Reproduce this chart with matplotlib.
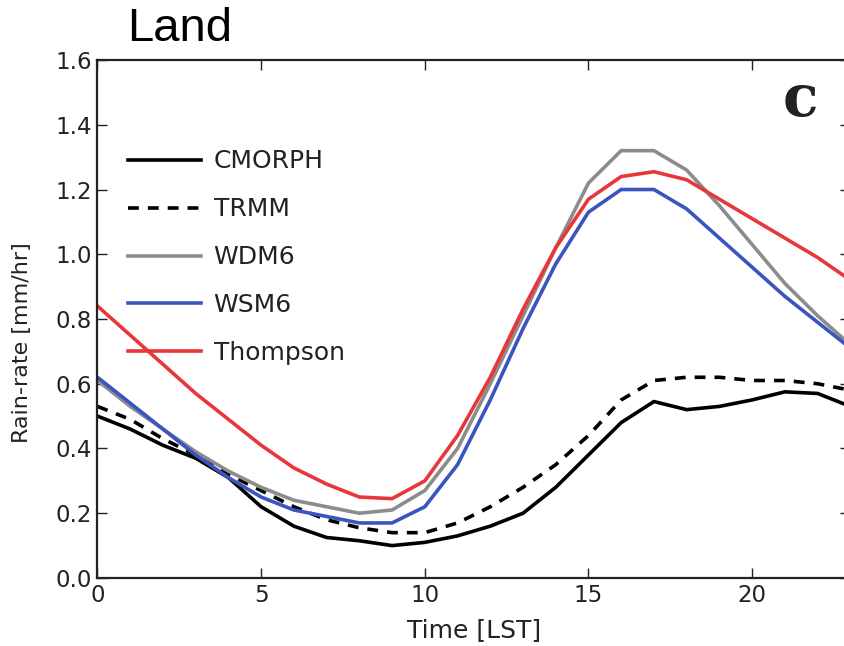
import matplotlib
matplotlib.use("Agg")
import matplotlib.pyplot as plt
import numpy as np

hours = list(range(24))
cmorph = [0.50, 0.46, 0.41, 0.37, 0.31, 0.22, 0.16, 0.125, 0.115, 0.10, 0.11, 0.13,
          0.16, 0.20, 0.28, 0.38, 0.48, 0.545, 0.52, 0.53, 0.55, 0.575, 0.57, 0.53]
trmm = [0.53, 0.49, 0.43, 0.38, 0.32, 0.27, 0.22, 0.18, 0.155, 0.14, 0.14, 0.17,
        0.22, 0.28, 0.35, 0.44, 0.55, 0.61, 0.62, 0.62, 0.61, 0.61, 0.60, 0.58]
wdm6 = [0.61, 0.53, 0.46, 0.39, 0.33, 0.28, 0.24, 0.22, 0.20, 0.21, 0.27, 0.40,
        0.60, 0.81, 1.02, 1.22, 1.32, 1.32, 1.26, 1.15, 1.03, 0.91, 0.81, 0.72]
wsm6 = [0.62, 0.54, 0.46, 0.38, 0.31, 0.25, 0.21, 0.19, 0.17, 0.17, 0.22, 0.35,
        0.55, 0.77, 0.97, 1.13, 1.20, 1.20, 1.14, 1.05, 0.96, 0.87, 0.79, 0.71]
thompson = [0.84, 0.75, 0.66, 0.57, 0.49, 0.41, 0.34, 0.29, 0.25, 0.245, 0.30, 0.44,
            0.62, 0.83, 1.02, 1.17, 1.24, 1.255, 1.23, 1.17, 1.11, 1.05, 0.99, 0.92]

W, H = 844, 646
fig = plt.figure(figsize=(W / 100, H / 100), dpi=100)
ax = fig.add_axes([0.1155, 0.1053, 0.892, 0.8018])

lw = 2.6
ax.plot(hours, cmorph, color="black", lw=lw, label="CMORPH")
ax.plot(hours, trmm, color="black", lw=lw, ls=(0, (3, 2.5)), label="TRMM")
ax.plot(hours, wdm6, color="#8c8c8c", lw=lw, label="WDM6")
ax.plot(hours, wsm6, color="#3a55c0", lw=lw, label="WSM6")
ax.plot(hours, thompson, color="#e8373a", lw=lw, label="Thompson")

ax.set_xlim(0, 23)
ax.set_ylim(0, 1.6)
ax.set_xticks([0, 5, 10, 15, 20])
ax.set_yticks(np.arange(0, 1.61, 0.2))
ax.yaxis.set_major_formatter(matplotlib.ticker.FormatStrFormatter("%.1f"))
ax.tick_params(direction="in", top=True, right=True, length=7, width=1,
               labelsize=16.5, pad=4, colors="#222222")
for s in ax.spines.values():
    s.set_linewidth(1.6)
    s.set_color("#222222")

ax.set_xlabel("Time [LST]", fontsize=18, color="#222222", labelpad=8)
ax.set_ylabel("Rain-rate [mm/hr]", fontsize=16, color="#222222")
ax.yaxis.set_label_coords(-0.087, 0.454)

leg = ax.legend(loc="upper left", bbox_to_anchor=(128 / W, 1 - 149.5 / H),
                bbox_transform=fig.transFigure, frameon=False, borderpad=0,
                borderaxespad=0, fontsize=18, handlelength=2.9,
                labelspacing=0.955, handletextpad=0.52)
for t in leg.get_texts():
    t.set_color("#222222")

ax.text(0.933, 0.923, "c", transform=ax.transAxes, fontsize=42, fontweight="bold",
        family="DejaVu Serif", ha="center", va="center", color="#222222")

fig.text(127 / W, 1 - 29 / H, "Land", fontsize=34, family="Liberation Sans",
         ha="left", va="center")

fig.savefig("out.png", dpi=100)
